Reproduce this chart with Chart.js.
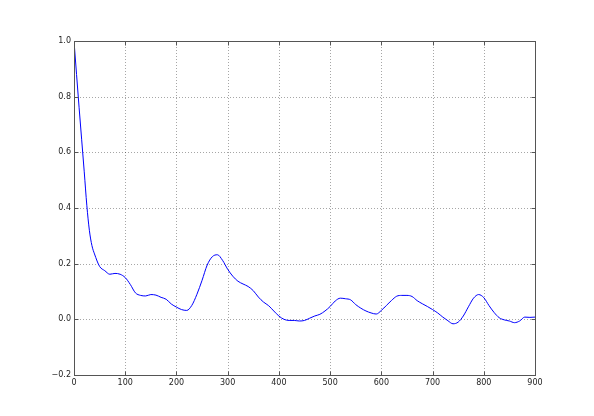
<!DOCTYPE html>
<html>
<head>
<meta charset="utf-8">
<script src="https://cdn.jsdelivr.net/npm/chart.js@4"></script>
<style>
html,body{margin:0;padding:0;background:#fff;}
canvas{display:block;}
</style>
</head>
<body>
<canvas id="c" width="594" height="416"></canvas>
<script>
const lags = [0,10,20,25,30,35,40,50,60,70,80,90,100,110,120,130,140,150,160,170,180,190,200,210,220,230,240,250,260,270,280,290,300,310,320,330,340,350,360,370,380,390,400,410,420,430,440,450,460,470,480,490,500,510,520,530,540,550,560,570,580,590,600,610,620,630,640,650,660,670,680,690,700,710,720,730,740,750,760,770,780,790,800,810,820,830,840,850,860,870,880,890,900];
const acf = [1.0,0.76,0.53,0.41,0.32,0.265,0.235,0.19,0.175,0.162,0.165,0.162,0.150,0.125,0.095,0.086,0.084,0.089,0.087,0.079,0.072,0.055,0.044,0.035,0.032,0.050,0.090,0.140,0.195,0.225,0.232,0.212,0.180,0.155,0.137,0.127,0.118,0.103,0.080,0.062,0.049,0.030,0.012,0.000,-0.004,-0.004,-0.006,-0.004,0.004,0.012,0.018,0.030,0.046,0.066,0.076,0.074,0.070,0.053,0.040,0.030,0.023,0.019,0.032,0.050,0.068,0.083,0.086,0.086,0.082,0.067,0.056,0.046,0.035,0.023,0.008,-0.005,-0.016,-0.010,0.012,0.045,0.076,0.089,0.078,0.050,0.025,0.006,-0.002,-0.006,-0.012,-0.006,0.008,0.007,0.008];
const xTicks = [0,100,200,300,400,500,600,700,800,900];
const yTicks = [-0.2,0.0,0.2,0.4,0.6,0.8,1.0];

const points = lags.map((x,i)=>({x:x,y:acf[i]}));

const framePlugin = {
  id:'frame',
  beforeDraw(chart){
    const ctx = chart.ctx;
    ctx.save();
    ctx.fillStyle = '#fff';
    ctx.fillRect(0,0,chart.width,chart.height);
    ctx.restore();
  },
  beforeDatasetsDraw(chart){
    const {ctx, chartArea:a, scales} = chart;
    ctx.save();
    ctx.strokeStyle = 'rgba(0,0,0,0.35)';
    ctx.lineWidth = 1;
    ctx.setLineDash([1,2]);
    xTicks.forEach(v=>{
      if(v===xTicks[0]||v===xTicks[xTicks.length-1]) return;
      const px = Math.round(scales.x.getPixelForValue(v))+0.5;
      ctx.beginPath(); ctx.moveTo(px,a.top); ctx.lineTo(px,a.bottom); ctx.stroke();
    });
    yTicks.forEach(v=>{
      if(v===yTicks[0]||v===yTicks[yTicks.length-1]) return;
      const py = Math.round(scales.y.getPixelForValue(v))+0.5;
      ctx.beginPath(); ctx.moveTo(a.left,py); ctx.lineTo(a.right,py); ctx.stroke();
    });
    ctx.restore();
  },
  afterDatasetsDraw(chart){
    const {ctx, chartArea:a, scales} = chart;
    ctx.save();
    ctx.strokeStyle = '#555';
    ctx.lineWidth = 1;
    ctx.setLineDash([]);
    const L = Math.round(a.left)+0.5, R = Math.round(a.right)+0.5, T = Math.round(a.top)+0.5, B = Math.round(a.bottom)+0.5;
    ctx.strokeRect(L,T,R-L,B-T);
    const tl = 4;
    xTicks.forEach(v=>{
      const px = Math.round(scales.x.getPixelForValue(v))+0.5;
      ctx.beginPath(); ctx.moveTo(px,B); ctx.lineTo(px,B-tl); ctx.stroke();
      ctx.beginPath(); ctx.moveTo(px,T); ctx.lineTo(px,T+tl); ctx.stroke();
    });
    yTicks.forEach(v=>{
      const py = Math.round(scales.y.getPixelForValue(v))+0.5;
      ctx.beginPath(); ctx.moveTo(L,py); ctx.lineTo(L+tl,py); ctx.stroke();
      ctx.beginPath(); ctx.moveTo(R,py); ctx.lineTo(R-tl,py); ctx.stroke();
    });
    ctx.restore();
  }
};

new Chart(document.getElementById('c'), {
  type:'line',
  data:{datasets:[{data:points,borderColor:'#0000ff',borderWidth:1,pointRadius:0,cubicInterpolationMode:'monotone',fill:false}]},
  options:{
    responsive:false,
    animation:false,
    devicePixelRatio:1,
    layout:{padding:{left:0,right:59,top:41,bottom:0}},
    plugins:{legend:{display:false},tooltip:{enabled:false}},
    scales:{
      x:{
        type:'linear',min:0,max:900,
        afterFit(s){s.height=41;},
        afterBuildTicks(s){s.ticks = xTicks.map(v=>({value:v}));},
        grid:{display:false,drawTicks:false},
        border:{display:false},
        ticks:{padding:3,color:'#222',font:{family:'DejaVu Sans',size:8},maxRotation:0,autoSkip:false,callback:v=>String(v)}
      },
      y:{
        type:'linear',min:-0.2,max:1.0,
        afterFit(s){s.width=74;},
        afterBuildTicks(s){s.ticks = yTicks.map(v=>({value:v}));},
        grid:{display:false,drawTicks:false},
        border:{display:false},
        ticks:{padding:3,color:'#222',font:{family:'DejaVu Sans',size:8},autoSkip:false,callback:v=>Number(v).toFixed(1).replace('-','\u2212')}
      }
    }
  },
  plugins:[framePlugin]
});
</script>
</body>
</html>
